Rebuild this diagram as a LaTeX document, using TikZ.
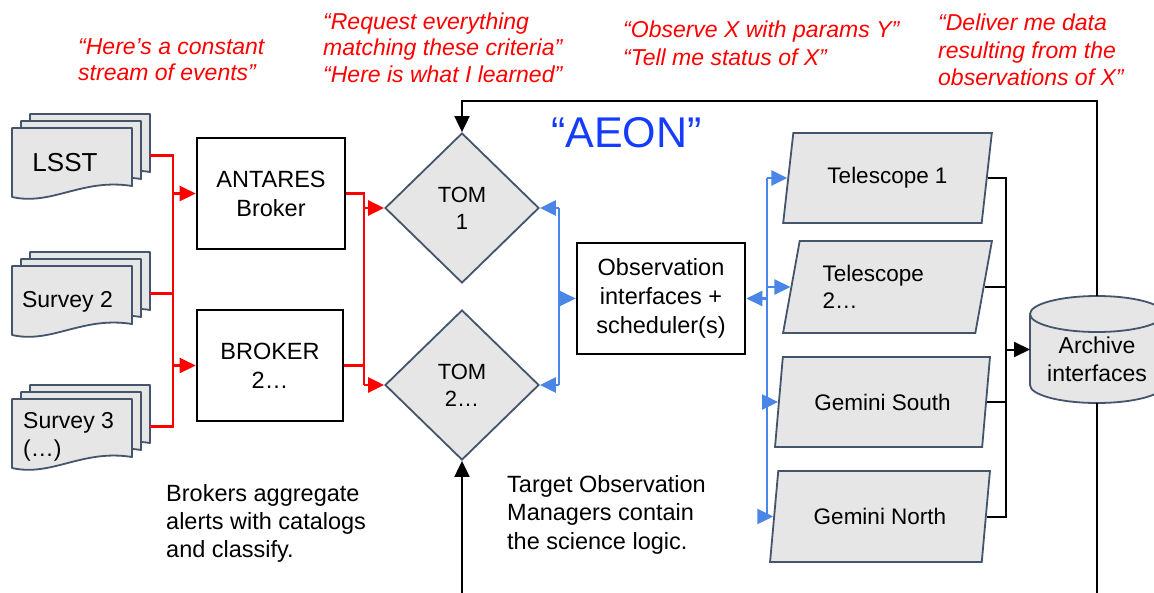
\documentclass[tikz,border=0pt]{standalone}
\usepackage{fontspec}
\setmainfont{Liberation Sans}
\usetikzlibrary{arrows.meta,shapes.geometric,calc}
\definecolor{shapefill}{RGB}{230,230,230}
\definecolor{shapeborder}{RGB}{68,84,106}
\definecolor{linkblue}{RGB}{74,134,232}
\definecolor{aeonblue}{RGB}{20,60,255}
\definecolor{annred}{RGB}{255,0,0}
\newcommand{\docstack}[3]{%
  \foreach \dx/\dy in {18/-14,9/-7,0/0}{%
    \begin{scope}[shift={(#2+\dx,#3+\dy)}]
      \draw[docsty] (0,0) -- (120,0) -- (120,58) .. controls (70,50) and (40,78) .. (0,69) -- cycle;
    \end{scope}
  }
  \node[inner sep=0pt, outer sep=0pt, minimum width=138pt, minimum height=83pt] (#1) at (#2+69,#3+27.5) {};
}
\begin{document}
\begin{tikzpicture}[x=1pt,y=-1pt,
  docsty/.style={draw=shapeborder, fill=shapefill, line width=1.8pt, line join=round},
  doclabel/.style={inner sep=0pt, font=\fontsize{23}{28}\selectfont, align=left},
  box/.style={draw=black, line width=2.6pt, fill=white, align=center, inner sep=2pt,
              font=\fontsize{23.5}{29}\selectfont},
  tom/.style={diamond, draw=shapeborder, fill=shapefill, line width=1.8pt,
              minimum width=154pt, minimum height=150pt, inner sep=0pt, align=center,
              font=\fontsize{22}{27}\selectfont},
  tele/.style={trapezium, trapezium left angle=75, trapezium right angle=105,
               trapezium stretches=true, draw=shapeborder, fill=shapefill, line width=1.8pt,
               inner sep=2pt, align=left, font=\fontsize{22.5}{27}\selectfont},
  annot/.style={anchor=north west, inner sep=0pt, align=left, text=annred,
                execute at begin node=\strut},
  note/.style={anchor=north west, inner sep=0pt, align=left, text=black,
               font=\fontsize{23.5}{28}\selectfont, execute at begin node=\strut},
  tip/.style={-{Triangle[length=16pt,width=15pt]}},
  redl/.style={draw=annred, line width=2.6pt},
  redarr/.style={redl, tip},
  bluel/.style={draw=linkblue, line width=2.4pt},
  bluearr/.style={bluel, tip},
  blk/.style={draw=black, line width=2pt},
  blkarr/.style={blk, tip}
]
\useasboundingbox (0,0) rectangle (1154,592);
\clip (0,0) rectangle (1154,592);

% annotations
\node[annot, font=\fontsize{23}{26}\selectfont\itshape] (ann1) at (78,38.8)
  {“Here’s a constant\\stream of events”};
\node[annot, font=\fontsize{23}{26.5}\selectfont\itshape] (ann2) at (323,12.2)
  {“Request everything\\matching these criteria”\\“Here is what I learned”};
\node[annot, font=\fontsize{23}{28}\selectfont\itshape] (ann3) at (623,20.4)
  {“Observe X with params Y”\\“Tell me status of X”};
\node[annot, font=\fontsize{23}{27.5}\selectfont\itshape] (ann4) at (938,13.8)
  {“Deliver me data\\resulting from the\\observations of X”};

\node[inner sep=0pt, text=aeonblue, font=\fontsize{43}{50}\selectfont] (aeon) at (626.5,132.5) {“AEON”};

% document stacks
\docstack{lsst}{12}{128}
\docstack{survb}{12}{266}
\docstack{survc}{12}{399}
\node[doclabel, font=\fontsize{26}{30}\selectfont] (lssttxt) at (65,163) {LSST};
\node[doclabel] (survbtxt) at (67.5,302) {Survey 2};
\node[doclabel, anchor=west] (survctxt) at (23,436.5) {Survey 3\\(…)};

% brokers
\node[box, minimum width=148pt, minimum height=111pt] (antares) at (271,193.5) {ANTARES\\Broker};
\node[box, minimum width=146pt, minimum height=111pt] (broker) at (270,365.5) {BROKER\\2…};

% TOMs
\node[tom] (tom1) at (462,208) {TOM\\1};
\node[tom] (tom2) at (462,385) {TOM\\2…};

% observation interfaces
\node[box, minimum width=168pt, minimum height=111pt] (obs) at (661,298.5)
  {Observation\\interfaces +\\scheduler(s)};

% telescopes
\node[tele, minimum width=209pt, minimum height=90pt] (tel1) at (887.5,178) {Telescope 1};
\node[tele, minimum width=209pt, minimum height=92pt, text width=130pt] (tel2) at (887.5,287) {Telescope\\2…};
\node[tele, minimum width=215pt, minimum height=90pt] (gs) at (882.5,402) {Gemini South};
\node[tele, minimum width=220pt, minimum height=91pt] (gn) at (880,516.5) {Gemini North};

% archive cylinder
\fill[shapefill] (1030,314) -- (1030,385) arc[start angle=180, end angle=0, x radius=67, y radius=18]
  -- (1164,314) arc[start angle=0, end angle=-180, x radius=67, y radius=18] -- cycle;
\draw[docsty, fill=none] (1030,314) -- (1030,385) arc[start angle=180, end angle=0, x radius=67, y radius=18]
  -- (1164,314);
\draw[docsty] (1097,314) ellipse[x radius=67, y radius=18];
\node[inner sep=0pt, outer sep=0pt, minimum width=134pt, minimum height=107pt] (arch) at (1097,349.5) {};
\node[inner sep=0pt, align=center, font=\fontsize{23}{28}\selectfont] (archtxt) at (1097,359) {Archive\\interfaces};

% notes
\node[note] (note1) at (166,484.4) {Brokers aggregate\\alerts with catalogs\\and classify.};
\node[note, font=\fontsize{23.5}{28.5}\selectfont] (note2) at (507,475) {Target Observation\\Managers contain\\the science logic.};

% helper coordinates
\coordinate (rx) at (173,0);
\coordinate (rx2) at (364,0);
\coordinate (bx) at (559,0);
\coordinate (bx2) at (767,0);
\coordinate (kx) at (1006,0);
\coordinate (looptop) at (462,101);
\coordinate (loopbot) at (462,620);

% red connectors
\draw[redl] (lsst.east) -- (lsst.east -| rx) -- (survc.east -| rx) -- (survc.east);
\draw[redl] (survb.east) -- (survb.east -| rx);
\draw[redarr] (antares.west -| rx) -- (antares.west);
\draw[redarr] (broker.west -| rx) -- (broker.west);
\draw[redl] (antares.east) -- (antares.east -| rx2) -- (tom2.west -| rx2);
\draw[redl] (broker.east) -- (broker.east -| rx2);
\draw[redarr] (tom1.west -| rx2) -- (tom1.west);
\draw[redarr] (tom2.west -| rx2) -- (tom2.west);

% blue connectors
\draw[bluel] (tom1.east -| bx) -- (tom2.east -| bx);
\draw[bluearr] (tom1.east -| bx) -- (tom1.east);
\draw[bluearr] (tom2.east -| bx) -- (tom2.east);
\draw[bluearr] (obs.west -| bx) -- (obs.west);
\draw[bluel] (tel1.west -| bx2) -- (gn.west -| bx2);
\draw[bluearr] (obs.east -| bx2) -- (obs.east);
\draw[bluearr] (tel1.west -| bx2) -- (tel1.west);
\draw[bluearr] (tel2.west -| bx2) -- (tel2.west);
\draw[bluearr] (gs.west -| bx2) -- (gs.west);
\draw[bluearr] (gn.west -| bx2) -- (gn.west);

% black connectors
\draw[blk] (tel1.east) -- (tel1.east -| kx) -- (gn.east -| kx) -- (gn.east);
\draw[blk] (tel2.east) -- (tel2.east -| kx);
\draw[blk] (gs.east) -- (gs.east -| kx);
\draw[blkarr] (arch.west -| kx) -- (arch.west);
\draw[blkarr] (arch.north) |- (looptop) -- (tom1.north);
\draw[blkarr] (arch.south) |- (loopbot) -- (tom2.south);
\end{tikzpicture}
\end{document}
